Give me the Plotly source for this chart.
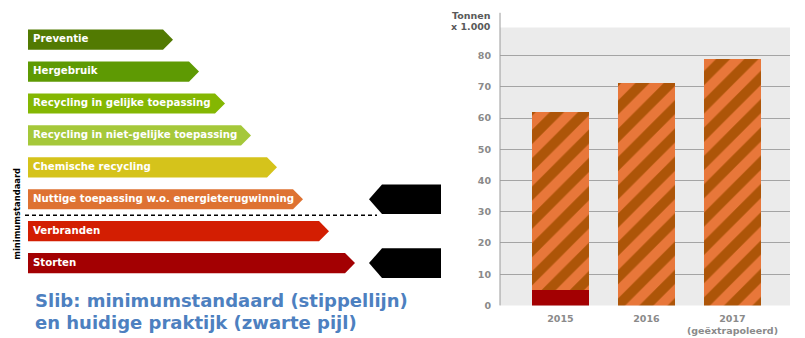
import plotly.graph_objects as go

# --- waste hierarchy (ladder) ---
ladder_steps = [
    "Preventie",
    "Hergebruik",
    "Recycling in gelijke toepassing",
    "Recycling in niet-gelijke toepassing",
    "Chemische recycling",
    "Nuttige toepassing w.o. energieterugwinning",
    "Verbranden",
    "Storten",
]
ladder_colors = ["#527a02", "#5e9a03", "#84b702", "#a5c83a",
                 "#d5c31b", "#de7232", "#d31e02", "#a30002"]
current_practice = ["Nuttige toepassing w.o. energieterugwinning", "Storten"]
minimum_standard_after = "Nuttige toepassing w.o. energieterugwinning"

# --- sludge volumes (tonnen x 1.000) ---
years = ["2015", "2016", "2017"]
year_labels = ["2015", "2016", "2017<br>(geëxtrapoleerd)"]
storten = [5, 0, 0]
nuttige_toepassing = [57, 71.5, 79]
y_ticks = [0, 10, 20, 30, 40, 50, 60, 70, 80]

W, H = 805, 338
fig = go.Figure()

# ladder drawn on a hidden pixel-scaled axis pair
row_top0, row_gap, row_h = 30, 32.4, 20.5
x_start, len0, len_step, tip = 28, 135, 26, 10
for i, (name, col) in enumerate(zip(ladder_steps, ladder_colors)):
    y0 = row_top0 + row_gap * i
    y1 = y0 + row_h
    xe = x_start + len0 + len_step * i
    fig.add_trace(go.Scatter(
        x=[x_start, xe, xe + tip, xe, x_start, x_start],
        y=[y0, y0, (y0 + y1) / 2, y1, y1, y0],
        fill="toself", fillcolor=col, mode="lines", line=dict(width=0),
        xaxis="x2", yaxis="y2", hoverinfo="skip", showlegend=False))
    fig.add_trace(go.Scatter(
        x=[x_start + 5], y=[(y0 + y1) / 2], mode="text", text=[name],
        textposition="middle right",
        textfont=dict(family="DejaVu Sans", size=10.2, color="white", weight="bold"),
        xaxis="x2", yaxis="y2", hoverinfo="skip", showlegend=False))

# black arrows marking current practice
ax0, ax1, adepth, ah = 369, 441, 13, 30
for name in current_practice:
    i = ladder_steps.index(name)
    yc = row_top0 + row_gap * i + row_h / 2
    fig.add_trace(go.Scatter(
        x=[ax0, ax0 + adepth, ax1, ax1, ax0 + adepth, ax0],
        y=[yc, yc - ah / 2, yc - ah / 2, yc + ah / 2, yc + ah / 2, yc],
        fill="toself", fillcolor="black", mode="lines", line=dict(width=0),
        xaxis="x2", yaxis="y2", hoverinfo="skip", showlegend=False))

# dashed minimum-standard line
i = ladder_steps.index(minimum_standard_after)
yd = row_top0 + row_gap * i + row_h + (row_gap - row_h) / 2
fig.add_trace(go.Scatter(
    x=[25, 377], y=[yd, yd], mode="lines",
    line=dict(color="black", width=1.6, dash="4px,3px"),
    xaxis="x2", yaxis="y2", hoverinfo="skip", showlegend=False))

# sludge bars
fig.add_trace(go.Bar(
    x=years, y=storten, width=0.663, marker=dict(color="#a30002", line=dict(width=0)),
    showlegend=False))
fig.add_trace(go.Bar(
    x=years, y=nuttige_toepassing, width=0.663,
    marker=dict(color="#e8773a", line=dict(width=0),
                pattern=dict(shape="/", bgcolor="#e8773a", fgcolor="#ad5508",
                             size=20, solidity=0.5, fillmode="replace")),
    showlegend=False))

px_l, px_r = 500, 790
py_bot, py_top = 310, 28
tick_font = dict(family="DejaVu Sans", size=9.5, color="#8a8a8a", weight="bold")
fig.update_layout(
    width=W, height=H, autosize=False,
    margin=dict(l=0, r=0, t=0, b=0),
    paper_bgcolor="white", plot_bgcolor="rgba(0,0,0,0)",
    barmode="stack", bargap=0,
    xaxis=dict(domain=[px_l / W, px_r / W], range=[-0.703, 2.669],
               tickvals=years, ticktext=year_labels, showgrid=False,
               zeroline=False, ticks="", ticklabelstandoff=6, fixedrange=True,
               tickfont=tick_font),
    yaxis=dict(domain=[1 - py_bot / H, 1 - py_top / H], range=[0, 89],
               tickvals=y_ticks, showgrid=True, gridcolor="#a4a4a4", gridwidth=1,
               zeroline=False, ticks="", ticklabelstandoff=8, fixedrange=True,
               tickfont=tick_font),
    xaxis2=dict(domain=[0, 450 / W], range=[0, 450], visible=False, fixedrange=True),
    yaxis2=dict(domain=[0, 1], range=[H, 0], visible=False, fixedrange=True,
                anchor="x2"),
)

# grey panel behind the bar chart only
fig.add_shape(type="rect", xref="x domain", yref="y domain",
              x0=0, x1=1, y0=0, y1=1, layer="below",
              fillcolor="#ebebeb", line=dict(width=0))
# y-axis line running up to the unit label
fig.add_shape(type="line", xref="paper", yref="paper",
              x0=px_l / W, x1=px_l / W, y0=1 - py_bot / H, y1=1 - 13 / H,
              line=dict(color="#9a9a9a", width=1))

unit_font = dict(family="DejaVu Sans", size=9.5, color="#5a5a5a", weight="bold")
blue_font = dict(family="DejaVu Sans", size=18, color="#4d80c0", weight="bold")
annotations = [
    dict(text="Tonnen", x=493 / W, y=1 - 16 / H, xanchor="right",
         yanchor="middle", showarrow=False, font=unit_font),
    dict(text="x 1.000", x=493 / W, y=1 - 26.5 / H, xanchor="right",
         yanchor="middle", showarrow=False, font=unit_font),
    dict(text="minimumstandaard", x=17 / W, y=1 - 217 / H, textangle=-90,
         xanchor="center", yanchor="middle", showarrow=False,
         font=dict(family="DejaVu Sans", size=8.4, color="black", weight="bold")),
    dict(text="Slib: minimumstandaard (stippellijn)", x=33 / W, y=1 - 305 / H,
         xanchor="left", yanchor="middle", showarrow=False, font=blue_font),
    dict(text="en huidige praktijk (zwarte pijl)", x=33 / W, y=1 - 327 / H,
         xanchor="left", yanchor="middle", showarrow=False, font=blue_font),
]
for a in annotations:
    a.update(xref="paper", yref="paper")
fig.update_layout(annotations=annotations)

fig.write_html("out.html", config={"displayModeBar": False})
